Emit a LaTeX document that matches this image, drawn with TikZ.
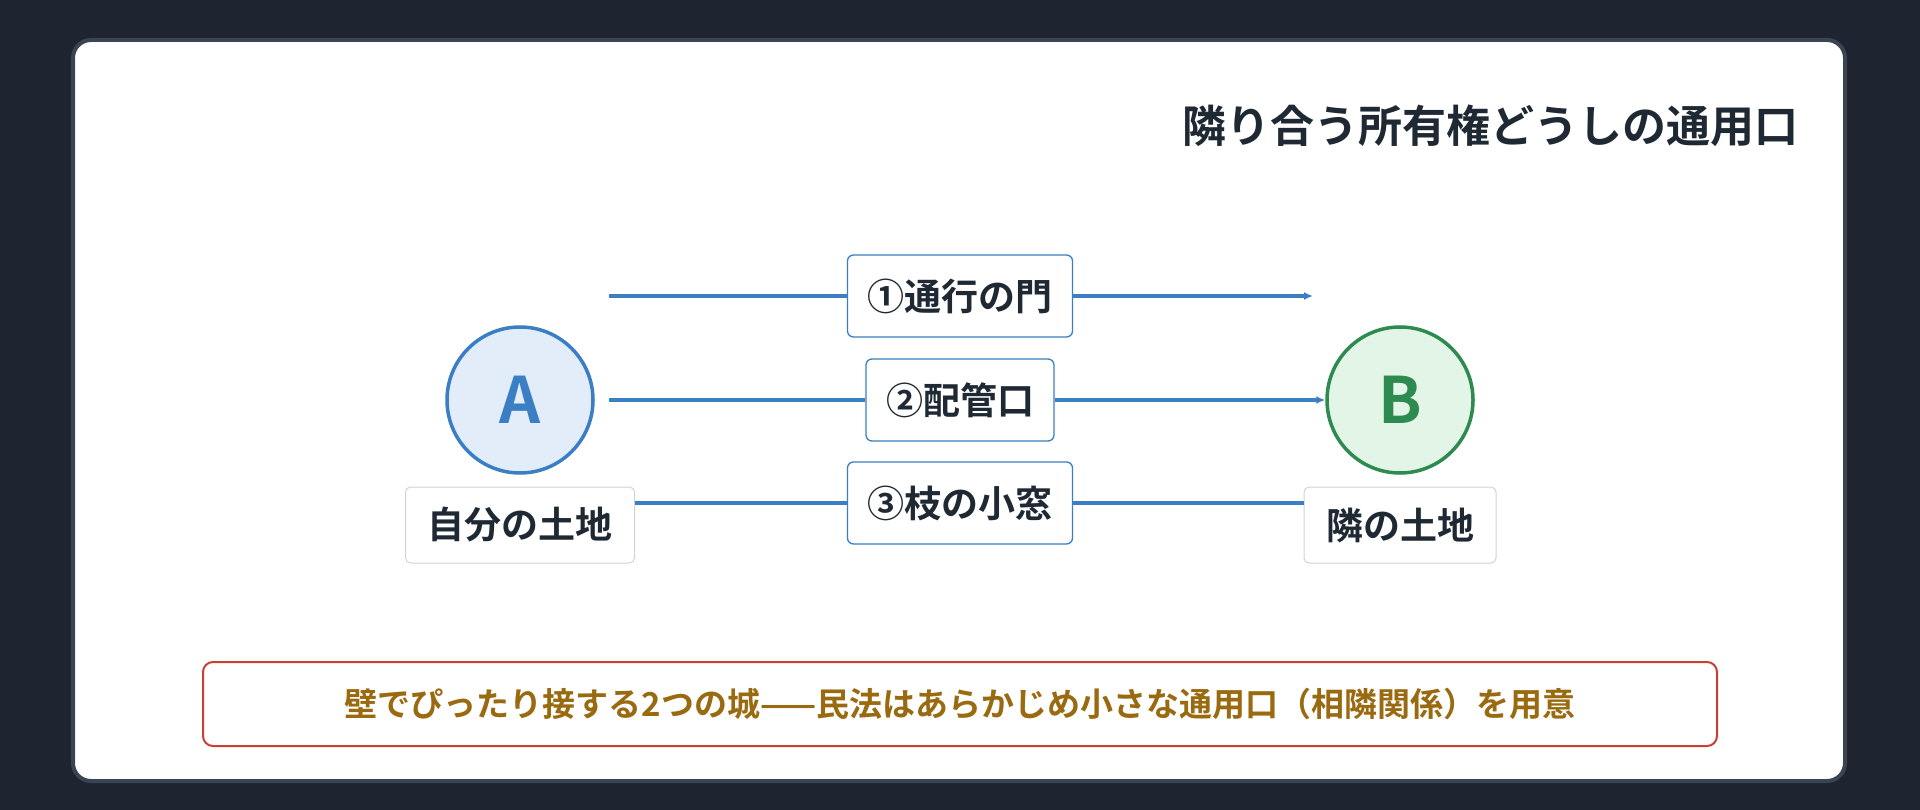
\documentclass[tikz,border=0pt]{standalone}
\usepackage{fontspec}
\setmainfont{Noto Sans CJK JP}[BoldFont={Noto Sans CJK JP Bold}]
\usetikzlibrary{arrows.meta,positioning}
\definecolor{bgdark}{HTML}{1E2530}
\definecolor{cardedge}{HTML}{3A4452}
\definecolor{ablue}{HTML}{3A7FC4}
\definecolor{afill}{HTML}{E3EDF9}
\definecolor{bgreen}{HTML}{2E8B4F}
\definecolor{bfill}{HTML}{E3F5E6}
\definecolor{txt}{HTML}{1F2933}
\definecolor{boxgrey}{HTML}{CDD3DB}
\definecolor{noteRed}{HTML}{C8402F}
\definecolor{noteGold}{HTML}{9A6A10}
\tikzset{
  land/.style={circle,line width=3.5pt,minimum size=146pt,inner sep=0pt,font=\fontsize{64}{64}\selectfont\bfseries},
  plot/.style={draw=boxgrey,line width=1pt,fill=white,rounded corners=5pt,minimum height=76pt,inner xsep=22pt,text=txt,font=\fontsize{37}{37}\selectfont\bfseries},
  way/.style={draw=ablue,line width=1.3pt,fill=white,rounded corners=6pt,minimum height=82pt,inner xsep=20pt,text=txt,font=\fontsize{37}{37}\selectfont\bfseries},
  link/.style={draw=ablue,line width=3.2pt},
  linkarrow/.style={link,-{Latex[length=9pt,width=8pt]}}
}
\begin{document}
\begin{tikzpicture}[x=1pt,y=-1pt]
\useasboundingbox (0,0) rectangle (1920,810);
\fill[bgdark] (0,0) rectangle (1920,810);
\draw[cardedge,line width=4pt,fill=white,rounded corners=18pt] (73,40) rectangle (1845,781);
% title
\node[anchor=east,text=txt,font=\fontsize{44}{44}\selectfont\bfseries] (title) at (1802,126) {隣り合う所有権どうしの通用口};
% the two plots
\node[land,draw=ablue,fill=afill,text=ablue] (A) at (520,400) {A};
\node[land,draw=bgreen,fill=bfill,text=bgreen] (B) at (1400,400) {B};
\node[plot] (ownA) at (520,525) {自分の土地};
\node[plot] (ownB) at (1400,525) {隣の土地};
% openings
\node[way] (gate) at (960,296) {①通行の門};
\node[way] (pipe) at (960,400) {②配管口};
\node[way] (window) at (960,503) {③枝の小窓};
\coordinate (s1) at (609,296);
\coordinate (e1) at (1313,296);
\coordinate (s2) at (609,400);
\draw[link] (s1) -- (gate);
\draw[linkarrow] (gate) -- (e1);
\draw[link] (s2) -- (pipe);
\draw[linkarrow] (pipe) -- (B);
\draw[link] (window -| ownA.east) -- (window);
\draw[link] (window) -- (window -| ownB.west);
% note
\node[draw=noteRed,line width=2pt,fill=white,rounded corners=10pt,minimum width=1514pt,minimum height=84pt,text=noteGold,font=\fontsize{33}{33}\selectfont\bfseries] (note) at (960,704) {壁でぴったり接する2つの城——民法はあらかじめ小さな通用口（相隣関係）を用意};
\end{tikzpicture}
\end{document}
